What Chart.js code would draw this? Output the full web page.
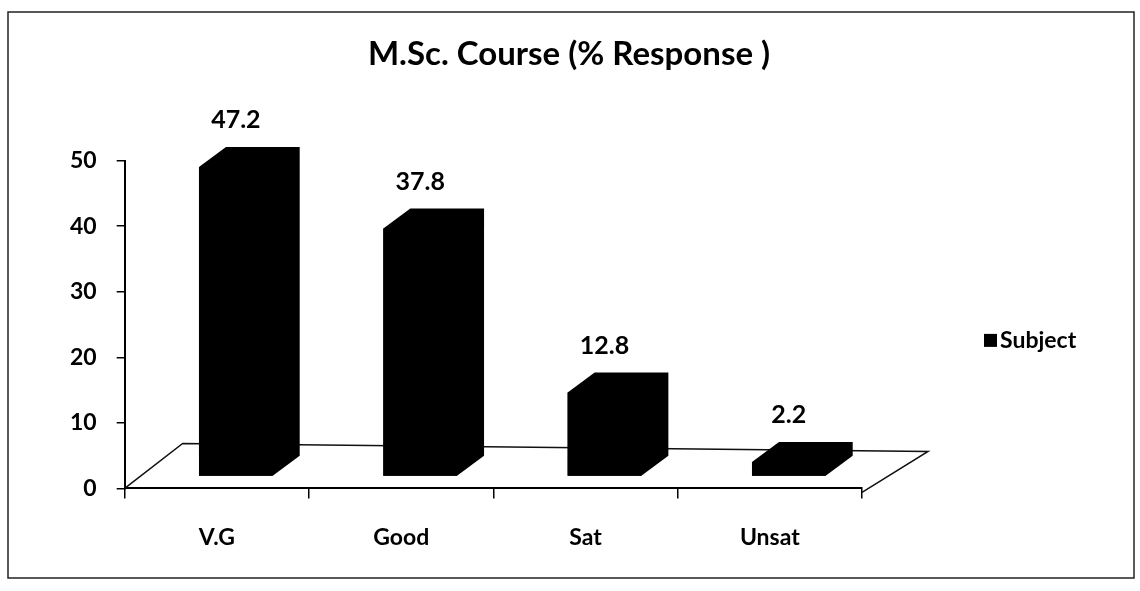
<!DOCTYPE html>
<html>
<head>
<meta charset="utf-8">
<script src="https://cdn.jsdelivr.net/npm/chart.js@4.4.0/dist/chart.umd.min.js"></script>
<style>
  html, body { margin: 0; padding: 0; background: #fff; }
</style>
</head>
<body>
<canvas id="courseChart" width="1140" height="591"></canvas>
<script>
// data
const categories = ['V.G', 'Good', 'Sat', 'Unsat'];
const responses = [47.2, 37.8, 12.8, 2.2];
const yTicks = [0, 10, 20, 30, 40, 50];
const seriesName = 'Subject';

const FONT = 'Lato, "Open Sans", sans-serif';
// fake 3d look: box depth and how far the bars sit behind the axis
const DEPTH_X = 27, DEPTH_Y = -20;
const SHIFT_X = 19, SHIFT_Y = -12;
const FLOOR_X = 58, FLOOR_Y = -45;

const box3d = {
  id: 'box3d',
  beforeDraw(chart) {
    const ctx = chart.ctx;
    ctx.save();
    ctx.strokeStyle = '#222';
    ctx.lineWidth = 1.5;
    ctx.strokeRect(8, 12, 1126, 566);
    ctx.restore();
  },
  beforeDatasetsDraw(chart) {
    const ctx = chart.ctx;
    const x = chart.scales.x, y = chart.scales.y;
    const y0 = y.getPixelForValue(0);
    // floor
    ctx.save();
    ctx.strokeStyle = '#111';
    ctx.lineWidth = 1.5;
    ctx.beginPath();
    ctx.moveTo(x.left, y0);
    ctx.lineTo(x.left + FLOOR_X, y0 + FLOOR_Y);
    ctx.lineTo(x.right + FLOOR_X + 8, y0 + FLOOR_Y + 8);
    ctx.lineTo(x.right, y0 + 4);
    ctx.stroke();
    ctx.restore();
    ctx.save();
    ctx.translate(SHIFT_X, SHIFT_Y);
  },
  afterDatasetsDraw(chart) {
    const ctx = chart.ctx;
    const meta = chart.getDatasetMeta(0);
    ctx.fillStyle = '#000';
    meta.data.forEach((bar, i) => {
      const l = bar.x - bar.width / 2, r = bar.x + bar.width / 2;
      const t = bar.y, b = bar.base;
      ctx.beginPath();
      ctx.moveTo(l, t);
      ctx.lineTo(l + DEPTH_X, t + DEPTH_Y);
      ctx.lineTo(r + DEPTH_X, t + DEPTH_Y);
      ctx.lineTo(r + DEPTH_X, b + DEPTH_Y);
      ctx.lineTo(r, b);
      ctx.lineTo(l, b);
      ctx.closePath();
      ctx.fill();
      ctx.font = 'bold 25px ' + FONT;
      ctx.textAlign = 'center';
      ctx.textBaseline = 'middle';
      ctx.fillText(String(responses[i]), bar.x, t + DEPTH_Y - 27);
    });
    ctx.restore();

    // legend
    const lx = chart.scales.x.right + 122;
    const ly = chart.scales.y.getPixelForValue(22.5);
    ctx.save();
    ctx.fillStyle = '#000';
    ctx.fillRect(lx, ly - 7, 13, 13);
    ctx.font = 'bold 23px ' + FONT;
    ctx.textAlign = 'left';
    ctx.textBaseline = 'middle';
    ctx.fillText(seriesName, lx + 16, ly);
    ctx.restore();
  }
};

new Chart(document.getElementById('courseChart'), {
  type: 'bar',
  data: {
    labels: categories,
    datasets: [{
      label: seriesName,
      data: responses,
      backgroundColor: '#000',
      borderWidth: 0,
      categoryPercentage: 1,
      barPercentage: 0.4
    }]
  },
  options: {
    responsive: false,
    animation: false,
    devicePixelRatio: 1,
    layout: { padding: { left: 50, right: 52, top: 0, bottom: 15 } },
    plugins: {
      legend: { display: false },
      tooltip: { enabled: false },
      title: {
        display: true,
        text: 'M.Sc. Course (% Response )',
        color: '#000',
        font: { family: FONT, size: 33, weight: 'bold' },
        padding: { top: 35, bottom: 86 }
      }
    },
    scales: {
      x: {
        grid: { offset: true, drawOnChartArea: false, drawTicks: true, tickLength: 10, color: '#000', lineWidth: 1.5 },
        border: { display: true, color: '#000', width: 2 },
        ticks: { color: '#000', padding: 25, font: { family: FONT, size: 23, weight: 'bold' } }
      },
      y: {
        min: 0,
        max: 50,
        afterBuildTicks: s => { s.ticks = yTicks.map(v => ({ value: v })); },
        grid: { drawOnChartArea: false, drawTicks: true, tickLength: 8, color: '#000', lineWidth: 1.5 },
        border: { display: true, color: '#000', width: 2 },
        ticks: { color: '#000', padding: 20, font: { family: FONT, size: 23, weight: 'bold' } }
      },
      // empty right-hand axis, only there to keep room for the legend
      legendRoom: {
        type: 'linear',
        position: 'right',
        display: true,
        grid: { display: false },
        border: { display: false },
        ticks: { display: false },
        afterFit: s => { s.width = 226; }
      }
    }
  },
  plugins: [box3d]
});
</script>
</body>
</html>
